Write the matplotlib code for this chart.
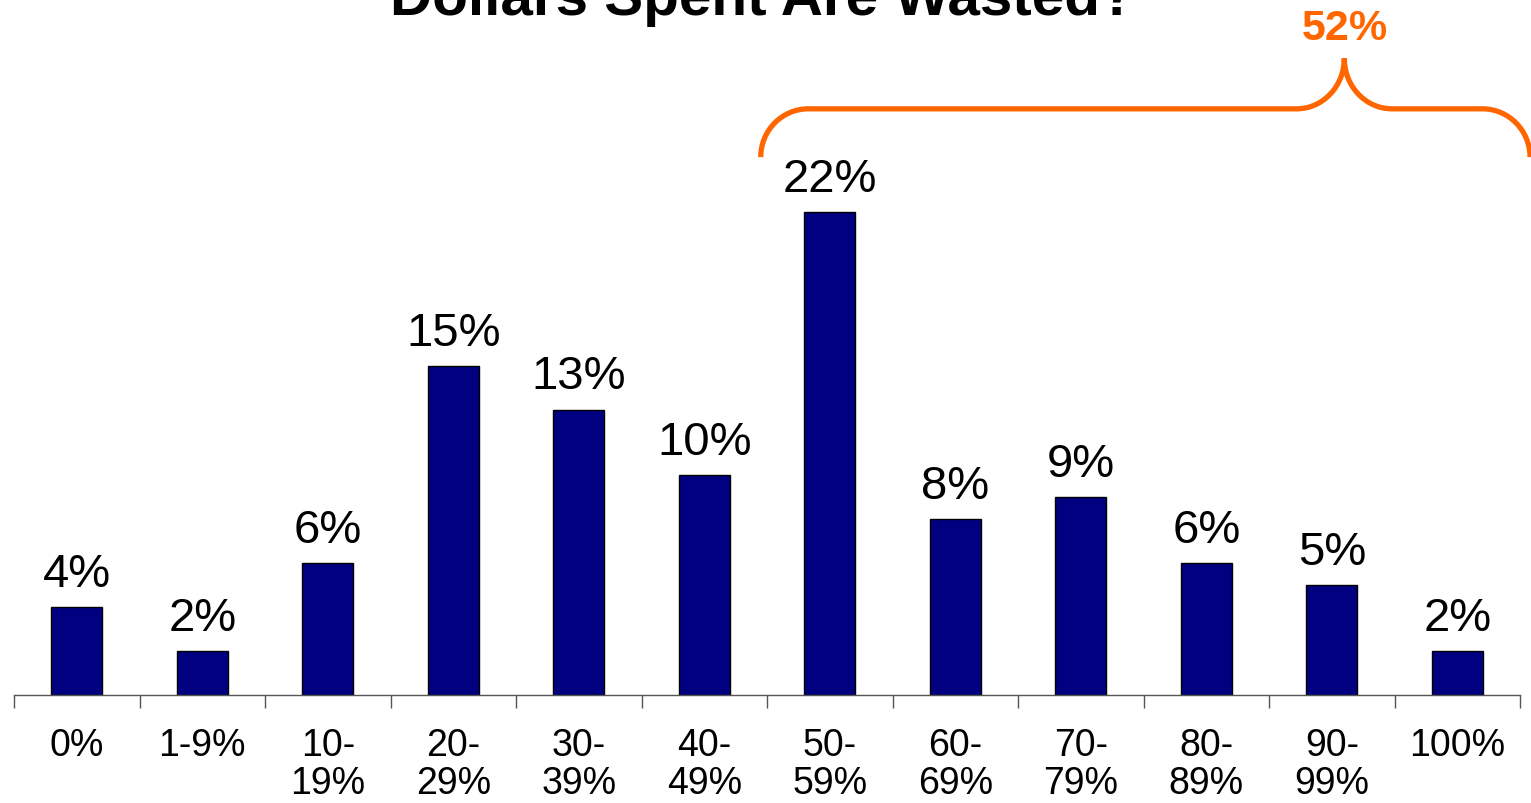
import matplotlib
matplotlib.use("Agg")
import matplotlib.pyplot as plt
from matplotlib.path import Path
from matplotlib.patches import PathPatch

plt.rcParams["font.family"] = ["Liberation Sans", "DejaVu Sans"]

# ── Data ──────────────────────────────────────────────────
categories = ["0%", "1-9%", "10-\n19%", "20-\n29%", "30-\n39%", "40-\n49%",
              "50-\n59%", "60-\n69%", "70-\n79%", "80-\n89%", "90-\n99%", "100%"]
shares = [4, 2, 6, 15, 13, 10, 22, 8, 9, 6, 5, 2]
bracket_total = "52%"

W, H = 1531, 804
fig = plt.figure(figsize=(W / 100, H / 100), dpi=100)

# axes spans the baseline at y=696 px up to the top edge
base_px = 696
unit_px = 483 / 22
ax = fig.add_axes([14 / W, (H - base_px) / H, 1506 / W, base_px / H])

x = list(range(len(categories)))
bars = ax.bar(x, shares, width=0.41, color="#000080", edgecolor="black", linewidth=1)
ax.bar_label(bars, labels=[f"{v}%" for v in shares], padding=8, fontsize=34)

ax.set_xlim(-0.5, len(categories) - 0.5)
ax.set_ylim(0, base_px / unit_px)

ax.set_xticks(x)
ax.set_xticklabels(categories, fontsize=27, linespacing=1.08)
ax.tick_params(axis="x", which="major", length=0, pad=23)
ax.set_xticks([i - 0.5 for i in range(len(categories) + 1)], minor=True)
ax.tick_params(axis="x", which="minor", length=9, width=1, color="#555555", direction="out")
ax.set_yticks([])
for side in ["top", "left", "right"]:
    ax.spines[side].set_visible(False)
ax.spines["bottom"].set_color("#555555")
ax.spines["bottom"].set_linewidth(1)

# ── Curly bracket over the 50%+ categories ────────────────
x0, x1, xp = 5.45, 11.58, 10.1
yb, yh, ypk = 24.5, 26.7, 29.0
rx, k = 0.38, 0.5523
ry = yh - yb
rp = ypk - yh
verts = [
    (x0, yb), (x0, yb + k * ry), (x0 + rx - k * rx, yh), (x0 + rx, yh),
    (xp - rx, yh),
    (xp - rx + k * rx, yh), (xp, ypk - k * rp), (xp, ypk),
    (xp, ypk - k * rp), (xp + rx - k * rx, yh), (xp + rx, yh),
    (x1 - rx, yh),
    (x1 - rx + k * rx, yh), (x1, yb + k * ry), (x1, yb),
]
codes = [Path.MOVETO, Path.CURVE4, Path.CURVE4, Path.CURVE4,
         Path.LINETO,
         Path.CURVE4, Path.CURVE4, Path.CURVE4,
         Path.CURVE4, Path.CURVE4, Path.CURVE4,
         Path.LINETO,
         Path.CURVE4, Path.CURVE4, Path.CURVE4]
brace = PathPatch(Path(verts, codes), facecolor="none", edgecolor="#FF6600",
                  linewidth=3.8, capstyle="butt", clip_on=False)
ax.add_patch(brace)
ax.text(xp, 30.4, bracket_total, ha="center", va="center", fontsize=31,
        fontweight="bold", color="#FF6600", clip_on=False)

# title sits partly above the top edge
fig.text(763 / W, 1 - 15 / H, "Dollars Spent Are Wasted?", ha="center",
         va="baseline", fontsize=42, fontweight="bold")

fig.savefig("out.png", dpi=100)
